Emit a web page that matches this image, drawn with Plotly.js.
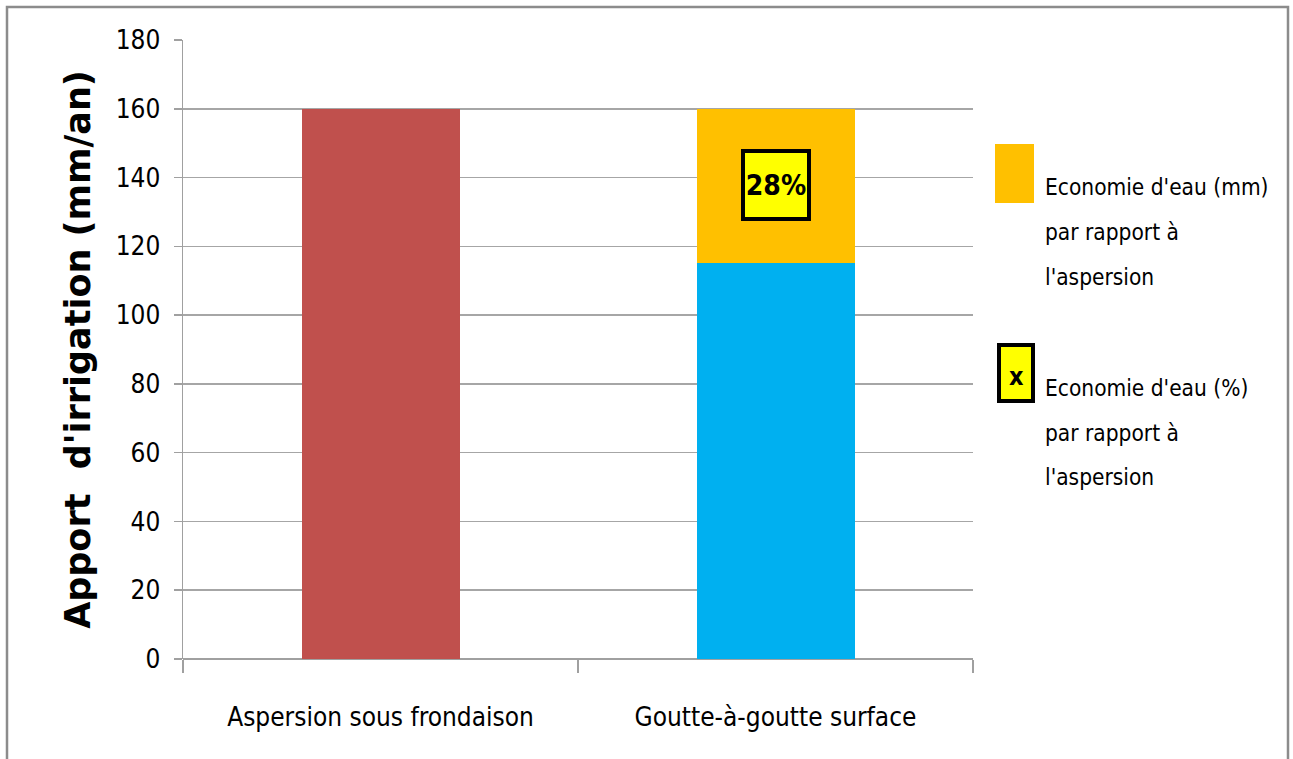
<!DOCTYPE html>
<html>
<head>
<meta charset="utf-8">
<script src="https://cdn.plot.ly/plotly-3.0.1.min.js"></script>
<style>
html,body{margin:0;padding:0;background:#fff;}
#chart{width:1293px;height:759px;}
</style>
</head>
<body>
<div id="chart"></div>
<script>
const categories = ["Aspersion sous frondaison", "Goutte-à-goutte surface"];
const aspersionValues = [160, null];
const gouttesValues = [null, 115.2];
const economieMm = [null, 44.8];
const economiePct = 28;
const yTicks = [0, 20, 40, 60, 80, 100, 120, 140, 160, 180];
const legendLabels = [
  ["Economie d'eau (mm)", "par rapport à", "l'aspersion"],
  ["Economie d'eau (%)", "par rapport à", "l'aspersion"]
];

const narrow = "'Liberation Sans Narrow', 'DejaVu Sans Condensed', 'Open Sans', sans-serif";

const traces = [
  {type: 'bar', x: categories, y: aspersionValues, marker: {color: '#C0504D'}, showlegend: false, hoverinfo: 'none'},
  {type: 'bar', x: categories, y: gouttesValues, marker: {color: '#00B0F0'}, showlegend: false, hoverinfo: 'none'},
  {type: 'bar', x: categories, y: economieMm, marker: {color: '#FFC000'}, showlegend: false, hoverinfo: 'none'}
];

// legend placement in paper coords (plot area: x 183..973, y 40..659)
const px = v => (v - 183) / 790;
const py = v => (659 - v) / 619;

const shapes = [
  {type: 'rect', xref: 'paper', yref: 'paper', x0: px(7), x1: px(1288), y0: py(770), y1: py(7), line: {color: '#8c8c8c', width: 2.5}, fillcolor: 'rgba(0,0,0,0)'},
  {type: 'rect', xref: 'paper', yref: 'paper', x0: px(995), x1: px(1034), y0: py(203), y1: py(144), line: {width: 0}, fillcolor: '#FFC000'},
  {type: 'rect', xref: 'paper', yref: 'paper', x0: px(999), x1: px(1033), y0: py(401), y1: py(345), line: {color: '#000', width: 4}, fillcolor: '#FFFF00'}
];

const annotations = [
  {x: categories[1], y: 137.8, xref: 'x', yref: 'y', text: '<b>' + economiePct + '%</b>', showarrow: false,
   font: {family: narrow, size: 28, color: '#000'}, bgcolor: '#FFFF00', bordercolor: '#000', borderwidth: 4,
   width: 62, height: 64, borderpad: 0},
  {xref: 'paper', yref: 'paper', x: px(1016), y: py(376), xanchor: 'center', yanchor: 'middle', text: '<b>x</b>', showarrow: false,
   font: {family: narrow, size: 25, color: '#000'}}
];
const legendY = [[187, 232, 277], [388, 433, 477]];
legendLabels.forEach((lines, i) => {
  lines.forEach((t, j) => {
    annotations.push({xref: 'paper', yref: 'paper', x: px(1043), y: py(legendY[i][j]), xanchor: 'left', yanchor: 'middle',
      text: t, showarrow: false, font: {family: narrow, size: 22.5, color: '#000'}});
  });
});

const layout = {
  width: 1293, height: 759,
  margin: {l: 183, r: 320, t: 40, b: 100},
  paper_bgcolor: '#fff', plot_bgcolor: '#fff',
  barmode: 'stack', bargap: 0.6,
  showlegend: false,
  xaxis: {
    type: 'category', range: [-0.5, 1.5], tickson: 'boundaries', ticks: 'outside', ticklen: 13, tickcolor: '#a0a0a0', tickwidth: 1.5,
    showgrid: false, showline: false, zeroline: false, ticklabelstandoff: 40,
    tickfont: {family: narrow, size: 26, color: '#000'}, fixedrange: true
  },
  yaxis: {
    range: [0, 180], tickvals: yTicks, ticktext: yTicks.map(String), ticks: 'outside', ticklen: 8, tickcolor: '#a0a0a0', tickwidth: 1.5,
    showgrid: true, gridcolor: '#a6a6a6', gridwidth: 1.5, showline: true, linecolor: '#a0a0a0', linewidth: 1.5, zeroline: true, zerolinecolor: '#a0a0a0', zerolinewidth: 1.5,
    ticklabelstandoff: 8,
    tickfont: {family: narrow, size: 26, color: '#000'},
    title: {text: "<b>Apport  d'irrigation (mm/an)</b>", font: {family: "'DejaVu Sans', Verdana, sans-serif", size: 35, color: '#000'}, standoff: 14},
    fixedrange: true
  },
  shapes: shapes,
  annotations: annotations
};

Plotly.newPlot('chart', traces, layout, {displayModeBar: false, staticPlot: true});
</script>
</body>
</html>
